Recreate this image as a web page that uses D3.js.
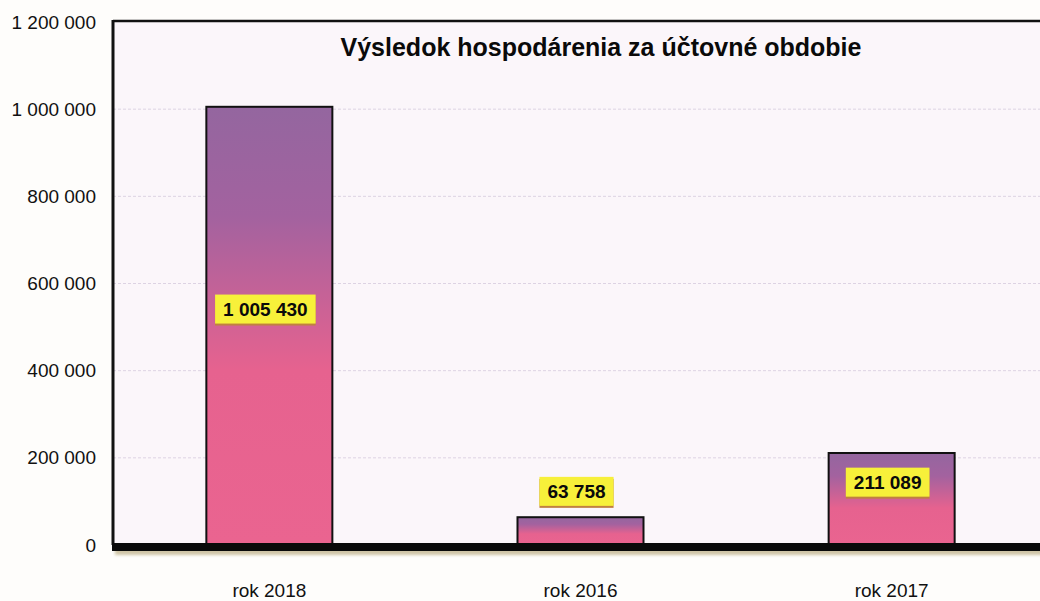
<!DOCTYPE html>
<html>
<head>
<meta charset="utf-8">
<script src="https://cdn.jsdelivr.net/npm/d3@7"></script>
<style>
  body { margin: 0; background: #fefdfb; }
  svg { display: block; font-family: "Liberation Sans", Arial, sans-serif; }
</style>
</head>
<body>
<div id="chart"></div>
<script>
const title = "Výsledok hospodárenia za účtovné obdobie";
const categories = ["rok 2018", "rok 2016", "rok 2017"];
const values = [1005430, 63758, 211089];
const tickValues = [0, 200000, 400000, 600000, 800000, 1000000, 1200000];

const W = 1040, H = 601;
const margin = { top: 22, right: -8, bottom: 56, left: 113 };
const width = W - margin.left - margin.right,
      height = H - margin.top - margin.bottom;

const fmt = v => d3.format(",")(v).replace(/,/g, " ");

const svg = d3.select("#chart")
    .append("svg")
    .attr("width", W)
    .attr("height", H);

const defs = svg.append("defs");
const grad = defs.append("linearGradient")
    .attr("id", "barGrad")
    .attr("x1", 0).attr("y1", 0).attr("x2", 0).attr("y2", 1);
grad.append("stop").attr("offset", "0%").attr("stop-color", "#94669f");
grad.append("stop").attr("offset", "25%").attr("stop-color", "#a3629f");
grad.append("stop").attr("offset", "60%").attr("stop-color", "#e6628f");
grad.append("stop").attr("offset", "100%").attr("stop-color", "#ea6490");

const shadow = defs.append("filter").attr("id", "axShadow")
    .attr("x", "-5%").attr("y", "-50%").attr("width", "110%").attr("height", "300%");
shadow.append("feGaussianBlur").attr("stdDeviation", 1.5);

const g = svg.append("g")
    .attr("transform", "translate(" + margin.left + "," + margin.top + ")");

const x = d3.scaleBand()
    .domain(categories)
    .range([0, width])
    .paddingInner(0.595)
    .paddingOuter(0.3);

const y = d3.scaleLinear()
    .domain([0, 1200000])
    .range([height, 0]);

// plot background
g.append("rect")
    .attr("x", 0).attr("y", 0)
    .attr("width", width).attr("height", height)
    .attr("fill", "#fbf6fa");

// gridlines
g.append("g")
    .selectAll("line")
    .data(tickValues.slice(1, -1))
    .join("line")
    .attr("x1", 0).attr("x2", width)
    .attr("y1", d => y(d)).attr("y2", d => y(d))
    .attr("stroke", "#ddd3e3")
    .attr("stroke-width", 1)
    .attr("stroke-dasharray", "3,2");

// y axis labels
const yAxis = g.append("g")
    .call(d3.axisLeft(y).tickValues(tickValues).tickFormat(fmt).tickSize(0).tickPadding(17));
yAxis.select(".domain").remove();
yAxis.selectAll("text")
    .attr("font-size", 19)
    .attr("font-family", "Liberation Sans, Arial, sans-serif")
    .attr("fill", "#111");

// bars
g.append("g")
    .selectAll("rect")
    .data(values)
    .join("rect")
    .attr("x", (d, i) => x(categories[i]))
    .attr("y", d => y(d))
    .attr("width", x.bandwidth())
    .attr("height", d => height - y(d))
    .attr("fill", "url(#barGrad)")
    .attr("stroke", "#111")
    .attr("stroke-width", 2);

// frame: top and left
g.append("line")
    .attr("x1", 0).attr("x2", width).attr("y1", -1).attr("y2", -1)
    .attr("stroke", "#111").attr("stroke-width", 2.5);
g.append("line")
    .attr("x1", 0).attr("x2", 0).attr("y1", -2).attr("y2", height)
    .attr("stroke", "#111").attr("stroke-width", 3);

// bottom axis with shadow
g.append("rect")
    .attr("x", 2).attr("y", height + 2)
    .attr("width", width).attr("height", 8)
    .attr("fill", "#b0a070")
    .attr("opacity", 0.6)
    .attr("filter", "url(#axShadow)");
g.append("rect")
    .attr("x", -1).attr("y", height - 2)
    .attr("width", width + 2).attr("height", 8)
    .attr("fill", "#0a0a0a");

// x labels
const xAxis = g.append("g")
    .attr("transform", "translate(0," + height + ")")
    .call(d3.axisBottom(x).tickSize(0).tickPadding(39));
xAxis.select(".domain").remove();
xAxis.selectAll("text")
    .attr("font-size", 19)
    .attr("font-family", "Liberation Sans, Arial, sans-serif")
    .attr("fill", "#111");

// value labels
const labelY = d => {
    const top = y(d), h = height - y(d);
    if (h < 40) return top - 26;
    return Math.max((top + height) / 2 - 17, top + 26);
};
const labels = g.append("g")
    .selectAll("g")
    .data(values)
    .join("g")
    .attr("transform", (d, i) => "translate(" + (x(categories[i]) + x.bandwidth() / 2 - 4) + "," + labelY(d) + ")");
labels.each(function (d) {
    const sel = d3.select(this);
    const t = sel.append("text")
        .attr("text-anchor", "middle")
        .attr("dy", "0.35em")
        .attr("font-size", 19)
        .attr("font-weight", "bold")
        .attr("fill", "#0a0a0a")
        .text(fmt(d));
    const bb = t.node().getBBox();
    sel.insert("rect", "text")
        .attr("x", bb.x - 8).attr("y", bb.y - 4 + 2)
        .attr("width", bb.width + 16).attr("height", bb.height + 8)
        .attr("fill", "#c08040");
    sel.insert("rect", "text")
        .attr("x", bb.x - 8).attr("y", bb.y - 4)
        .attr("width", bb.width + 16).attr("height", bb.height + 8)
        .attr("fill", "#f7f03a");
});

// title
g.append("text")
    .attr("x", 601 - margin.left)
    .attr("y", 47 - margin.top)
    .attr("dy", "0.35em")
    .attr("text-anchor", "middle")
    .attr("font-size", 25)
    .attr("font-weight", "bold")
    .attr("fill", "#0a0a0a")
    .text(title);
</script>
</body>
</html>
